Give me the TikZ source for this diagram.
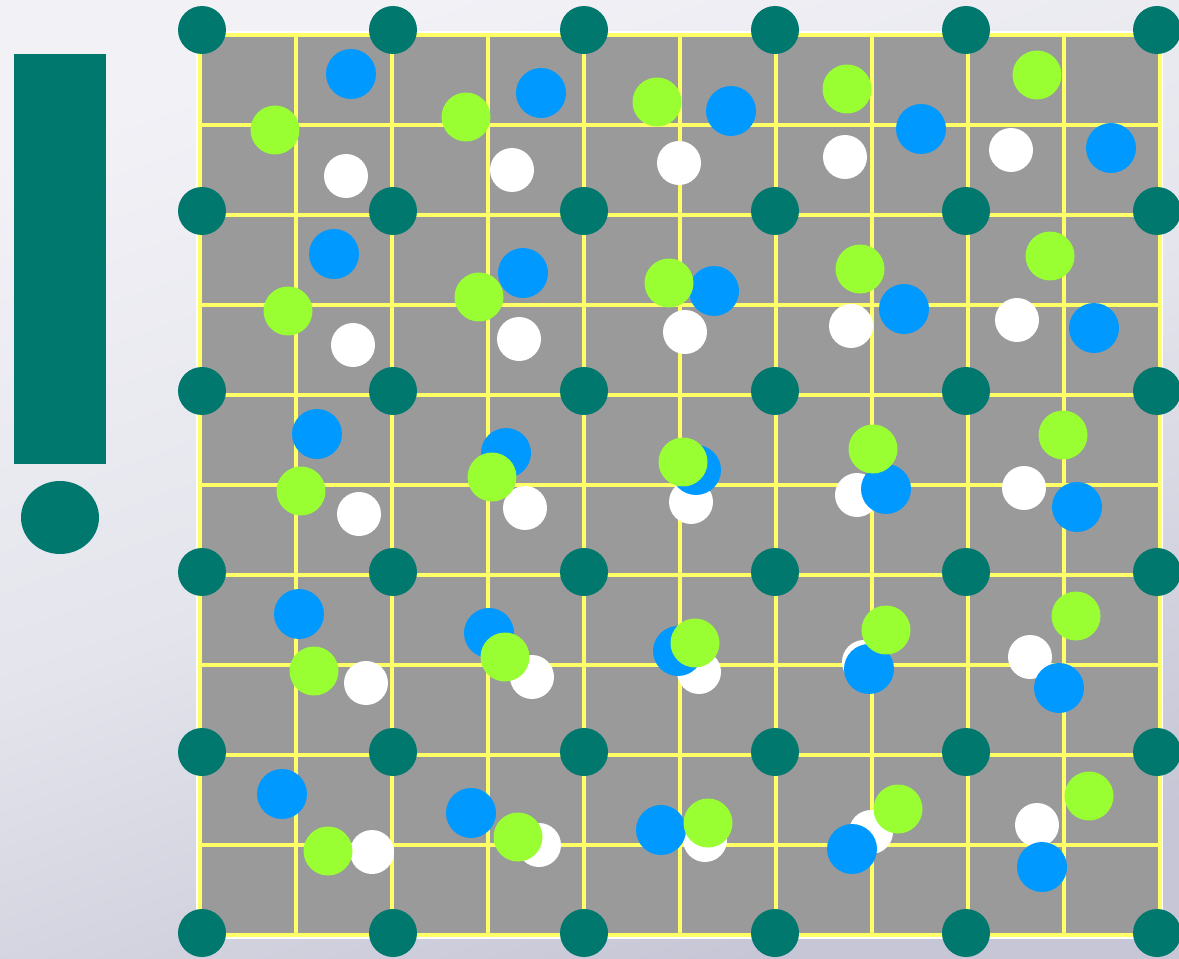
\documentclass[tikz,border=0pt]{standalone}
\usetikzlibrary{shapes.geometric}

\definecolor{teal}{HTML}{00786E}
\definecolor{gridyel}{HTML}{FFFF66}
\definecolor{dotblue}{HTML}{0099FF}
\definecolor{dotgreen}{HTML}{99FF33}
\definecolor{plate}{HTML}{9A9A9A}
\definecolor{skytop}{HTML}{F1F1F6}
\definecolor{skylow}{HTML}{C6C6D6}

\begin{document}
\begin{tikzpicture}[
  x=0.02cm, y=-0.02cm,
  corner/.style={circle,fill=teal,inner sep=0pt,minimum size=0.96cm},
  bdot/.style={circle,fill=dotblue,inner sep=0pt,minimum size=1.0cm},
  gdot/.style={circle,fill=dotgreen,inner sep=0pt,minimum size=0.98cm},
  wdot/.style={circle,fill=white,inner sep=0pt,minimum size=0.88cm},
  gline/.style={gridyel,line width=2.4pt}
]
\useasboundingbox (0,0) rectangle (1179,959);
% backdrop
\shade[top color=skytop, bottom color=skylow, middle color=skytop!70!skylow, shading angle=20]
  (0,0) rectangle (1179,959);
% left bar and dot
\node[rectangle,fill=teal,inner sep=0pt,minimum width=1.84cm,minimum height=8.2cm] (bar) at (60,259) {};
\node[ellipse,fill=teal,inner sep=0pt,minimum width=1.56cm,minimum height=1.46cm] (point) at (60,517.5) {};
% plate with grid
\fill[white] (196,31) rectangle (1163,939);
\fill[plate] (200,35) rectangle (1160,935);
\foreach \i in {0,...,10} {
  \draw[gline] ({200+96*\i},35) -- ({200+96*\i},935);
  \draw[gline] (200,{35+90*\i}) -- (1160,{35+90*\i});
}
% corner dots
\foreach \c/\x in {0/202,1/393,2/584,3/775,4/966,5/1157}
  \foreach \r/\y in {0/30,1/211,2/391,3/572,4/752,5/933}
    \node[corner] (k\r\c) at (\x,\y) {};
% samples
\foreach \x/\y [count=\i] in {346/176,512/170,679/163,845/157,1011/150,
    353/345,519/339,685/332,851/326,1017/320,
    359/514,525/508,691/502,857/495,1024/488,
    366/683,532/677,699/672,864/662,1030/657,
    372/852,539/845,705/840,871/832,1037/825}
  \node[wdot] (w\i) at (\x,\y) {};
\foreach \x/\y [count=\i] in {351/74,541/93,731/111,921/129,1111/148,
    334/254,523/273,714/291,904/309,1094/328,
    317/434,506/453,696/470,886/489,1077/507,
    299/614,489/633,678/651,869/669,1059/688,
    282/794,471/813,661/830,852/849,1042/867}
  \node[bdot] (b\i) at (\x,\y) {};
\foreach \x/\y [count=\i] in {275/130,466/117,657/102,847/89,1037/75,
    288/311,479/297,669/283,860/269,1050/256,
    301/491,492/477,683/462,873/449,1063/435,
    314/671,505/657,695/643,886/630,1076/616,
    328/851,518/837,708/823,898/809,1089/796}
  \node[gdot] (g\i) at (\x,\y) {};
\end{tikzpicture}
\end{document}
